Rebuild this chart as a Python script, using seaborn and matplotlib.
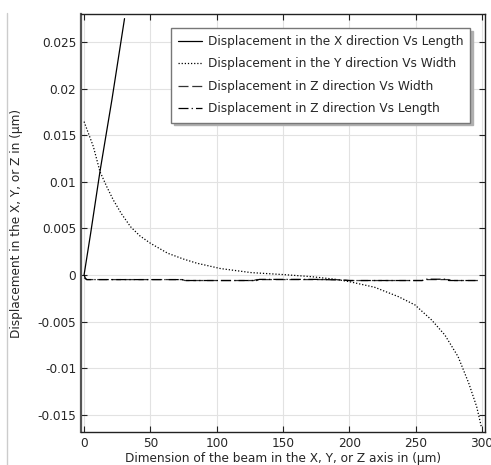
import numpy as np
import pandas as pd
import seaborn as sns
import matplotlib.pyplot as plt
from matplotlib.ticker import FuncFormatter
from matplotlib.lines import Line2D

# values
x_len = [0, 5, 12, 21, 30.5]
disp_x = [0, 0.0045, 0.0111, 0.0188, 0.0275]

x_wid = [0, 7, 12, 17, 22, 28, 35, 42, 50, 63, 75, 85, 103, 126, 151, 171, 189,
         200, 219, 237, 249.5, 262, 272, 282, 290, 296, 299.5]
disp_y = [0.01645, 0.01377, 0.01108, 0.0095, 0.00805, 0.0066, 0.00518, 0.0042,
          0.0034, 0.00233, 0.0017, 0.00126, 0.00068, 0.00025, 0.00003, -0.00018,
          -0.00046, -0.00072, -0.00132, -0.00233, -0.00322, -0.00483, -0.00644,
          -0.00877, -0.0116, -0.01413, -0.01628]

x_zw = [0, 2, 20, 50, 74, 76, 100, 128, 130, 160, 190, 200, 230, 255, 257, 275, 278, 297]
disp_zw = [-0.0003, -0.0005, -0.0005, -0.0005, -0.0005, -0.0006, -0.0006, -0.0006,
           -0.0005, -0.0005, -0.0005, -0.0006, -0.0006, -0.0006, -0.0005, -0.0005,
           -0.0006, -0.0006]

x_zl = [0, 1, 2, 20, 50, 74, 76, 100, 130, 132, 175, 195, 200, 230, 255, 258, 272, 275, 297]
disp_zl = [0, -0.00036, -0.0005, -0.0005, -0.0005, -0.0005, -0.0006, -0.0006, -0.0006,
           -0.00048, -0.00048, -0.00055, -0.0006, -0.0006, -0.0006, -0.00046, -0.00046,
           -0.0006, -0.0006]

labels = ['Displacement in the X direction Vs Length',
          'Displacement in the Y direction Vs Width',
          'Displacement in Z direction Vs Width',
          'Displacement in Z direction Vs Length']

sns.set_style('white')
plt.rcParams['font.family'] = ['DejaVu Sans']
plt.rcParams['axes.unicode_minus'] = False
fs = 8.7

fig = plt.figure(figsize=(4.91, 4.65), dpi=100)
ax = fig.add_axes([0.165, 0.071, 0.822, 0.899])

sns.lineplot(x=x_len, y=disp_x, ax=ax, color='black', lw=0.9, linestyle='-', label=labels[0])
sns.lineplot(x=x_wid, y=disp_y, ax=ax, color='black', lw=0.9, linestyle=(0, (1, 1.5)), label=labels[1])
sns.lineplot(x=x_zw, y=disp_zw, ax=ax, color='#333333', lw=0.9, linestyle=(0, (8, 3)), label=labels[2])
sns.lineplot(x=x_zl, y=disp_zl, ax=ax, color='black', lw=0.9, linestyle=(0, (8, 2.5, 1, 2.5)), label=labels[3])

ax.set_xlim(-2.3, 302)
ax.set_ylim(-0.01685, 0.028)
ax.set_xticks([0, 50, 100, 150, 200, 250, 300])
ax.set_yticks([-0.015, -0.01, -0.005, 0, 0.005, 0.01, 0.015, 0.02, 0.025])
ax.yaxis.set_major_formatter(FuncFormatter(lambda v, p: f'{v:g}'))
ax.grid(True, color='#e2e2e2', lw=0.8)
for s in ax.spines.values():
    s.set_color('#222222')
    s.set_linewidth(1.0)
ax.spines['left'].set_linewidth(1.6)
ax.spines['left'].set_color('#555555')
ax.tick_params(axis='both', labelsize=fs, color='#222222', length=4, width=0.8)
ax.tick_params(axis='x', direction='in', top=True, bottom=True)
ax.tick_params(axis='y', direction='in', right=True, left=True)

ax.set_xlabel('Dimension of the beam in the X, Y, or Z axis in (µm)', fontsize=fs, labelpad=1.5)
ax.set_ylabel('Displacement in the X, Y, or Z in (µm)', fontsize=fs, labelpad=10)

ax.legend(loc='upper right', bbox_to_anchor=(0.965, 0.967), borderaxespad=0,
          fontsize=fs, frameon=True, fancybox=False,
          shadow={'color': '#b0b0b0', 'alpha': 1},
          edgecolor='#777777', framealpha=1, handlelength=2.0, handletextpad=0.45,
          labelspacing=0.78, borderpad=0.6)

fig.add_artist(Line2D([0.015, 0.015], [0, 0.972], transform=fig.transFigure,
                      color='#cccccc', lw=1))

fig.savefig('out.png', dpi=100)
